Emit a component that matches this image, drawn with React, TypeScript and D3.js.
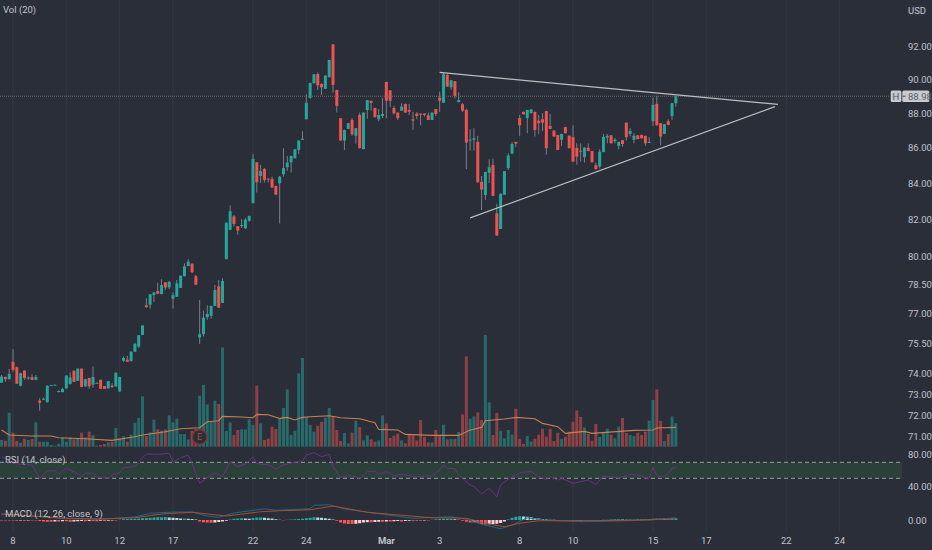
import { useRef, useEffect } from 'react';
import * as d3 from 'd3';

const width = 932;
const height = 550;

// hourly bars, index 0 is the bar on the "8" label, the first bar is -3
const firstBar = -3;

// [open, high, low, close]
const candles: [number, number, number, number][] = [
  [73.56, 73.94, 73.56, 73.86], [73.84, 73.86, 73.61, 73.73], [73.73, 74.23, 73.72, 73.99], [74.59, 75.22, 74.09, 74.19],
  [74.32, 74.35, 73.5, 73.51], [73.41, 74.05, 73.38, 74.02], [74.15, 74.17, 73.7, 73.79], [73.76, 73.86, 73.7, 73.81],
  [73.83, 73.97, 73.68, 73.7], [73.7, 73.94, 73.68, 73.84], [72.69, 72.81, 72.2, 72.59], [72.76, 72.84, 72.72, 72.78],
  [72.61, 73.43, 72.6, 73.41], [73.43, 73.46, 73.42, 73.44], [73.45, 73.47, 73.44, 73.46], [73.1, 73.18, 73.09, 73.16],
  [73.1, 73.31, 73.09, 73.25], [73.28, 73.92, 73.27, 73.91], [73.5, 74.07, 73.46, 73.81], [74.15, 74.16, 73.59, 73.6],
  [73.65, 74.26, 73.64, 74.25], [74.25, 74.26, 73.34, 73.35], [73.38, 73.74, 73.37, 73.73], [73.79, 73.8, 73.26, 73.38],
  [73.46, 74.36, 73.31, 73.84], [73.53, 73.57, 73.52, 73.55], [73.7, 73.71, 73.25, 73.26], [73.39, 73.4, 73.25, 73.26],
  [73.28, 73.65, 73.27, 73.64], [73.41, 73.54, 73.3, 73.35], [73.38, 74.06, 73.37, 74.05], [73.13, 73.85, 73.12, 73.84],
  [74.64, 74.86, 74.59, 74.78], [74.69, 74.88, 74.58, 74.59], [74.62, 75.1, 74.61, 75.09], [75.09, 75.54, 75.08, 75.48],
  [75.35, 75.93, 75.28, 75.92], [75.93, 76.42, 75.92, 76.41], [77.44, 77.8, 77.3, 77.35], [77.47, 78.02, 77.27, 78.01],
  [77.97, 78.12, 77.61, 78.11], [78.18, 78.61, 78.03, 78.04], [78.02, 78.79, 78.01, 78.49], [78.63, 78.64, 78.23, 78.37],
  [78.37, 78.7, 78.28, 78.66], [77.78, 78.11, 77.27, 77.96], [77.88, 78.76, 77.87, 78.58], [78.34, 78.99, 78.33, 78.98],
  [78.95, 79.63, 78.94, 79.47], [79.49, 79.85, 79.48, 79.72], [79.61, 79.62, 79.12, 79.16], [78.95, 79.02, 78.5, 78.51],
  [75.8, 77.72, 75.48, 75.97], [75.97, 77.17, 75.85, 76.81], [76.83, 77.44, 76.7, 77.0], [76.9, 77.42, 76.76, 77.41],
  [77.41, 78.49, 77.4, 78.23], [78.42, 78.76, 77.31, 77.32], [77.56, 78.85, 77.55, 78.7], [79.85, 81.83, 79.84, 81.81],
  [81.42, 82.75, 81.4, 82.44], [82.16, 82.23, 81.6, 81.74], [81.62, 81.63, 81.16, 81.38], [81.63, 82.0, 81.52, 81.68],
  [81.5, 82.07, 81.48, 81.97], [81.92, 82.19, 81.85, 82.18], [82.88, 85.63, 82.87, 85.35], [85.16, 85.17, 83.47, 84.04],
  [84.39, 85.02, 83.99, 84.66], [84.79, 84.83, 84.02, 84.17], [84.24, 84.26, 84.02, 84.21], [84.22, 84.35, 83.73, 83.74],
  [83.83, 83.85, 83.34, 83.35], [83.98, 84.39, 81.77, 84.35], [84.49, 85.96, 84.35, 84.83], [84.88, 85.52, 84.69, 85.14],
  [85.16, 85.53, 84.58, 85.52], [85.39, 85.91, 85.38, 85.9], [85.86, 86.41, 85.63, 86.4], [86.44, 86.94, 86.43, 86.5],
  [87.63, 89.1, 87.62, 88.59], [88.89, 89.78, 88.83, 89.77], [89.75, 90.3, 89.74, 90.29], [90.3, 90.4, 89.35, 89.63],
  [89.71, 89.75, 89.06, 89.51], [89.42, 90.22, 89.41, 90.21], [90.11, 91.16, 90.1, 91.15], [92.1, 92.12, 89.19, 89.65],
  [89.35, 89.37, 88.02, 88.41], [87.69, 87.7, 86.39, 86.4], [86.4, 87.02, 85.86, 87.01], [87.07, 87.41, 87.06, 87.4],
  [87.59, 87.7, 86.67, 86.76], [86.67, 87.12, 86.22, 87.11], [87.88, 88.02, 85.95, 85.96], [85.91, 88.03, 85.9, 88.02],
  [88.17, 88.76, 87.67, 88.75], [88.71, 88.72, 88.13, 88.59], [88.29, 88.3, 87.74, 87.75], [87.63, 88.23, 87.52, 87.88],
  [87.82, 88.87, 87.69, 87.94], [89.83, 89.84, 87.69, 88.72], [89.33, 89.34, 88.33, 88.71], [88.29, 88.41, 87.9, 87.98],
  [88.02, 88.03, 87.59, 87.69], [88.13, 88.57, 88.12, 88.37], [88.53, 88.54, 88.01, 88.02], [88.17, 88.53, 87.88, 88.07],
  [87.63, 88.07, 87.01, 87.55], [87.96, 88.04, 87.63, 87.82], [87.96, 87.97, 87.28, 87.9], [87.96, 87.97, 87.78, 87.88],
  [87.86, 88.02, 87.58, 87.59], [87.59, 88.03, 87.58, 88.02], [88.23, 88.24, 87.82, 87.94], [88.89, 89.25, 88.06, 88.71],
  [88.59, 90.4, 88.58, 90.29], [90.25, 90.3, 89.54, 89.55], [89.51, 89.94, 89.35, 89.93], [89.87, 89.88, 88.85, 89.0],
  [88.63, 89.21, 88.62, 88.75], [88.51, 88.57, 88.06, 88.13], [88.17, 88.25, 84.77, 86.28], [86.42, 87.05, 85.82, 86.45],
  [86.44, 87.11, 85.82, 86.53], [86.32, 86.67, 84.0, 84.04], [84.06, 84.39, 82.5, 83.63], [83.33, 84.62, 83.06, 84.61],
  [84.56, 85.33, 84.0, 84.88], [85.0, 85.37, 83.27, 83.28], [82.32, 82.84, 81.1, 81.11], [81.47, 83.41, 81.46, 83.4],
  [83.35, 84.67, 83.34, 84.66], [84.83, 85.67, 84.73, 85.54], [85.65, 86.32, 85.64, 86.2], [86.32, 86.33, 86.02, 86.22],
  [87.7, 87.88, 86.67, 87.28], [88.06, 88.07, 87.91, 87.92], [87.7, 88.18, 86.82, 88.17], [87.98, 88.22, 87.97, 88.21],
  [88.06, 88.07, 86.63, 87.01], [87.55, 87.88, 86.78, 87.4], [87.63, 87.98, 86.95, 87.43], [88.11, 88.12, 85.59, 85.96],
  [87.24, 87.94, 87.06, 87.07], [86.97, 86.98, 86.62, 86.63], [86.72, 86.73, 85.85, 85.86], [86.44, 86.79, 86.09, 86.78],
  [87.18, 87.19, 86.81, 86.82], [86.68, 86.69, 85.95, 85.96], [86.59, 87.28, 85.19, 85.2], [85.98, 86.24, 85.02, 85.48],
  [85.82, 86.24, 85.2, 85.78], [85.45, 86.01, 85.14, 86.0], [85.98, 86.24, 85.79, 85.8], [85.8, 85.81, 85.15, 85.16],
  [85.0, 85.14, 84.76, 84.77], [84.92, 85.9, 84.81, 85.76], [85.74, 86.78, 85.73, 86.61], [86.57, 86.78, 86.24, 86.67],
  [86.7, 86.71, 86.23, 86.24], [86.36, 86.55, 86.24, 86.45], [86.09, 86.33, 85.9, 86.32], [86.42, 86.43, 86.05, 86.2],
  [87.43, 87.44, 86.4, 86.59], [86.78, 87.11, 86.63, 86.95], [86.44, 86.82, 86.24, 86.67], [86.7, 86.71, 86.47, 86.48],
  [86.72, 86.73, 86.52, 86.53], [86.67, 86.68, 86.09, 86.24], [86.26, 86.59, 86.25, 86.32], [87.52, 88.89, 87.24, 88.47],
  [88.53, 89.0, 87.27, 87.28], [87.4, 87.41, 86.13, 86.63], [86.78, 87.35, 86.77, 87.34], [87.52, 87.63, 87.29, 87.3],
  [87.82, 88.58, 87.59, 88.57], [88.57, 89.0, 88.37, 88.98],
];

// thousands of shares
const volumes = [
  67, 60, 340, 140, 57, 40, 80, 67, 77, 243,
  50, 50, 50, 17, 10, 27, 93, 50, 93, 73,
  83, 140, 93, 150, 117, 10, 17, 27, 43, 50,
  187, 83, 103, 50, 120, 240, 287, 503, 107, 143,
  270, 173, 160, 173, 313, 243, 280, 127, 127, 73,
  157, 177, 510, 617, 423, 250, 460, 427, 993, 157,
  243, 117, 167, 173, 173, 273, 217, 610, 233, 67,
  80, 200, 177, 283, 387, 573, 117, 160, 733, 887,
  290, 217, 150, 210, 247, 290, 387, 307, 167, 57,
  137, 33, 140, 260, 197, 63, 113, 73, 50, 63,
  313, 233, 87, 110, 130, 63, 33, 123, 113, 63,
  267, 97, 43, 43, 167, 107, 220, 73, 77, 77,
  147, 323, 903, 280, 303, 343, 267, 1117, 443, 117,
  337, 160, 83, 167, 123, 380, 80, 27, 107, 53,
  80, 120, 180, 100, 180, 57, 140, 77, 100, 150,
  250, 363, 297, 193, 127, 60, 227, 97, 140, 180,
  120, 83, 200, 287, 137, 117, 107, 140, 117, 150,
  260, 467, 573, 257, 57, 127, 303, 237,
];

// [bar, value] read at the turning points of each line
const volumeAverage: [number, number][] = [
  [-3, 167], [-1, 117], [5, 107], [10, 107], [12, 90], [19, 80], [26, 63], [32, 100], [34, 117], [40, 150],
  [44, 180], [49, 190], [51, 250], [54, 260], [55, 303], [60, 297], [63, 290], [64, 323], [67, 320], [70, 283],
  [72, 293], [74, 267], [76, 293], [78, 300], [83, 310], [86, 290], [91, 280], [95, 240], [96, 173], [101, 167],
  [103, 123], [110, 113], [117, 113], [120, 167], [123, 193], [124, 260], [129, 277], [132, 293], [137, 280], [139, 233],
  [143, 200], [145, 133], [150, 153], [152, 133], [163, 163], [168, 167], [169, 187], [174, 193],
];

const rsi: [number, number][] = [
  [-3, 77], [-2, 75], [0, 68.7], [2, 67.5], [5, 66.6], [7, 50], [9, 59], [11, 59.6], [12, 55], [14, 62.5],
  [16, 58.3], [18, 52.9], [19, 56.2], [21, 56.2], [22, 51.2], [25, 50], [26, 54], [28, 57], [29, 63.3], [32, 64.6],
  [33, 70.8], [35, 80.4], [38, 80], [41, 81.2], [42, 70], [44, 75.8], [46, 79], [47, 68.7], [49, 43.7], [51, 50.8],
  [53, 57], [55, 52], [57, 70.8], [59, 64.6], [61, 67.9], [63, 76.2], [64, 68.7], [67, 66.6], [69, 61.6], [71, 66.6],
  [74, 70], [76, 71.6], [77, 79], [79, 82], [81, 77], [83, 80], [84, 64.6], [86, 50.8], [88, 54], [90, 52],
  [91, 49], [93, 58.3], [95, 59], [96, 55], [98, 58.3], [100, 53.3], [102, 55], [104, 53.3], [105, 52], [108, 52.9],
  [110, 52.9], [112, 60.4], [113, 66.6], [114, 62.5], [116, 62], [117, 54], [118, 50], [120, 41.6], [121, 39.6], [123, 30.4],
  [125, 37.5], [127, 27], [128, 41.6], [130, 49], [133, 57], [136, 58.3], [138, 52], [140, 48.7], [141, 52], [143, 47.9],
  [144, 50], [147, 43.7], [151, 47.9], [153, 42], [155, 52.9], [157, 52], [159, 50], [162, 55], [165, 53.3], [166, 49],
  [167, 50], [168, 63.7], [169, 53.3], [170, 51.2], [172, 55.4], [173, 62.5], [174, 63.7],
];

const macdLine: [number, number][] = [
  [-3, 0.24], [5, 0.16], [14, 0.05], [23, 0.03], [32, 0.12], [36, 0.27], [42, 0.32], [47, 0.32], [51, 0.16], [54, 0.11],
  [58, 0.28], [66, 0.45], [69, 0.39], [78, 0.45], [79, 0.59], [83, 0.61], [87, 0.44], [95, 0.27], [105, 0.07], [115, 0.13],
  [119, 0.03], [123, -0.17], [128, -0.35], [131, -0.2], [135, 0.09], [140, -0.01], [150, -0.07], [158, -0.04], [167, 0], [174, 0.09],
];

const signalLine: [number, number][] = [
  [-3, 0.24], [5, 0.16], [14, 0.07], [23, 0.04], [32, 0.09], [39, 0.24], [47, 0.31], [56, 0.16], [65, 0.33], [70, 0.37],
  [78, 0.41], [84, 0.56], [93, 0.31], [102, 0.19], [110, 0.09], [119, 0.07], [124, -0.13], [129, -0.27], [133, -0.13], [138, -0.03],
  [147, -0.03], [163, -0.01], [174, 0.04],
];

const macdHist = [
  -0.02, -0.02, -0.02, -0.02, -0.03, -0.02, -0.03, -0.02, -0.02, -0.02,
  -0.04, -0.06, -0.07, -0.07, -0.06, -0.06, -0.05, -0.05, -0.07, -0.06,
  -0.05, -0.04, -0.05, -0.04, -0.04, -0.05, -0.03, -0.04, -0.03, -0.02,
  -0.02, 0.01, 0.03, 0.04, 0.05, 0.05, 0.06, 0.07, 0.08, 0.09,
  0.1, 0.11, 0.11, 0.12, 0.1, 0.09, 0.08, 0.06, 0.06, 0.05,
  0.04, 0.02, -0.06, -0.09, -0.1, -0.11, -0.1, -0.08, -0.06, -0.03,
  0.02, 0.05, 0.06, 0.07, 0.06, 0.05, 0.08, 0.1, 0.1, 0.09,
  0.07, 0.06, 0.03, 0.01, -0.01, 0.01, 0.02, 0.03, 0.04, 0.05,
  0.07, 0.09, 0.11, 0.1, 0.09, 0.07, 0.05, 0.02, -0.03, -0.1,
  -0.14, -0.16, -0.16, -0.15, -0.13, -0.1, -0.09, -0.09, -0.08, -0.07,
  -0.07, -0.06, -0.06, -0.05, -0.04, -0.06, -0.04, -0.03, -0.03, -0.03,
  -0.03, -0.02, -0.02, 0.01, 0.03, 0.04, 0.05, 0.05, 0.05, 0.03,
  0.01, -0.03, -0.07, -0.1, -0.09, -0.12, -0.16, -0.18, -0.17, -0.16,
  -0.15, -0.12, -0.06, 0.02, 0.09, 0.13, 0.15, 0.14, 0.13, 0.11,
  0.08, 0.06, 0.04, 0.02, 0.02, 0.01, -0.01, -0.02, -0.02, -0.02,
  -0.03, -0.03, -0.02, -0.02, -0.01, -0.02, -0.01, -0.01, 0.01, 0.01,
  0.02, 0.03, 0.03, 0.02, 0.02, 0.02, 0.02, 0.03, 0.03, 0.03,
  0.02, 0.05, 0.06, 0.06, 0.05, 0.06, 0.07, 0.07,
];

const timeTicks: [number, string][] = [
  [0, '8'], [14, '10'], [28, '12'], [42, '17'], [63, '22'], [77, '24'], [98, 'Mar'],
  [112, '3'], [133, '8'], [147, '10'], [168, '15'], [182, '17'], [203, '22'], [217, '24'],
];

const priceTicks = [92, 90, 88, 86, 84, 82, 80, 78.5, 77, 75.5, 74, 73, 72, 71];
const rsiTicks = [80, 40];
const rsiBand = [70, 50];
const lastPrice = 88.98;
const earningsBar = 49;

// [bar, price] of the two hand drawn trend lines
const upperTrend: [number, number][] = [[112, 90.4], [200.8, 88.5]];
const lowerTrend: [number, number][] = [[120, 82.07], [200, 88.37]];

const BG = '#2a2e39';
const UP = '#26a69a';
const DOWN = '#ef5350';
const WICK = '#7b7e88';
const TEXT = '#c0c3ca';
const FONT = '"Liberation Sans Narrow", Roboto, sans-serif';

export default function App() {
  const svgRef = useRef<SVGSVGElement>(null);

  useEffect(() => {
    if (!svgRef.current) return;
    const svg = d3.select(svgRef.current);
    svg.selectAll('*').remove();

    const axisLeft = 902;

    const x = d3.scaleLinear().domain([0, 168]).range([13, 653]);
    const yPrice = d3.scaleLog().domain([71, 92]).range([436, 46]);
    const yVol = d3.scaleLinear().domain([0, 1120]).range([446.7, 334.7]);
    const yRsi = d3.scaleLinear().domain([80, 40]).range([454.3, 486.3]);
    const yMacd = d3.scaleLinear().domain([0, 1]).range([520, 495]);

    const barOf = (i: number) => i + firstBar;
    const isUp = (c: [number, number, number, number]) => c[3] >= c[0];

    // Grid
    svg.append('g')
      .selectAll('line')
      .data(timeTicks)
      .join('line')
      .attr('x1', (d) => x(d[0])).attr('x2', (d) => x(d[0]))
      .attr('y1', 0).attr('y2', 531)
      .attr('stroke', '#343844')
      .attr('stroke-width', 1);

    // Volume
    svg.append('g')
      .selectAll('rect')
      .data(volumes)
      .join('rect')
      .attr('x', (_, i) => x(barOf(i)) - 1.5)
      .attr('y', (d) => yVol(d))
      .attr('width', 3)
      .attr('height', (d) => yVol(0) - yVol(d))
      .attr('fill', (_, i) => (isUp(candles[i]) ? UP : DOWN))
      .attr('opacity', 0.5);

    const pointLine = (y: d3.ScaleLinear<number, number>) =>
      d3.line<[number, number]>().x((d) => x(d[0])).y((d) => y(d[1]));

    svg.append('path')
      .attr('d', pointLine(yVol)(volumeAverage))
      .attr('fill', 'none')
      .attr('stroke', '#c97f50')
      .attr('stroke-width', 1.1);

    // Candles
    const bars = svg.append('g');
    bars.selectAll('line')
      .data(candles)
      .join('line')
      .attr('x1', (_, i) => x(barOf(i))).attr('x2', (_, i) => x(barOf(i)))
      .attr('y1', (d) => yPrice(d[1])).attr('y2', (d) => yPrice(d[2]))
      .attr('stroke', WICK)
      .attr('stroke-width', 1);
    bars.selectAll('rect')
      .data(candles)
      .join('rect')
      .attr('x', (_, i) => x(barOf(i)) - 1.5)
      .attr('y', (d) => yPrice(Math.max(d[0], d[3])))
      .attr('width', 3)
      .attr('height', (d) => Math.max(1, Math.abs(yPrice(d[0]) - yPrice(d[3]))))
      .attr('fill', (d) => (isUp(d) ? UP : DOWN));

    // Last price line
    svg.append('line')
      .attr('x1', 0).attr('x2', axisLeft - 12)
      .attr('y1', yPrice(lastPrice)).attr('y2', yPrice(lastPrice))
      .attr('stroke', '#6a6d78')
      .attr('stroke-dasharray', '1 1');

    // Trend lines
    [upperTrend, lowerTrend].forEach((t) => {
      svg.append('line')
        .attr('x1', x(t[0][0])).attr('y1', yPrice(t[0][1]))
        .attr('x2', x(t[1][0])).attr('y2', yPrice(t[1][1]))
        .attr('stroke', '#bcbdc1')
        .attr('stroke-width', 1.2);
    });

    // Earnings badge
    const ex = x(earningsBar);
    const ey = 437;
    svg.append('circle')
      .attr('cx', ex).attr('cy', ey).attr('r', 7.3)
      .attr('fill', '#2a2e39')
      .attr('stroke', '#7d3436')
      .attr('stroke-width', 1.4);
    svg.append('text')
      .attr('x', ex).attr('y', ey + 3)
      .attr('text-anchor', 'middle')
      .attr('fill', '#b8403e')
      .style('font-size', '9px').style('font-family', FONT)
      .text('E');

    // RSI pane
    svg.append('rect')
      .attr('x', 0).attr('width', axisLeft)
      .attr('y', yRsi(rsiBand[0])).attr('height', yRsi(rsiBand[1]) - yRsi(rsiBand[0]))
      .attr('fill', '#2a4038');
    rsiBand.forEach((v) => {
      svg.append('line')
        .attr('x1', 0).attr('x2', axisLeft)
        .attr('y1', yRsi(v)).attr('y2', yRsi(v))
        .attr('stroke', '#9a9da5')
        .attr('stroke-dasharray', '4 3');
    });
    svg.append('path')
      .attr('d', pointLine(yRsi)(rsi))
      .attr('fill', 'none')
      .attr('stroke', '#6f2f84')
      .attr('stroke-width', 1);

    // MACD pane
    svg.append('g')
      .selectAll('rect')
      .data(macdHist)
      .join('rect')
      .attr('x', (_, i) => x(barOf(i)) - 1.5)
      .attr('y', (d) => Math.min(yMacd(d), yMacd(0)))
      .attr('width', 3)
      .attr('height', (d) => Math.abs(yMacd(d) - yMacd(0)))
      .attr('fill', (d, i) => {
        const prev = i > 0 ? macdHist[i - 1] : d;
        if (d >= 0) return d >= prev ? UP : '#b2dfdb';
        return d <= prev ? '#ff5252' : '#ffcdd2';
      });
    svg.append('path')
      .attr('d', pointLine(yMacd)(macdLine))
      .attr('fill', 'none')
      .attr('stroke', '#0f6d8e')
      .attr('stroke-width', 1);
    svg.append('path')
      .attr('d', pointLine(yMacd)(signalLine))
      .attr('fill', 'none')
      .attr('stroke', '#b04a2b')
      .attr('stroke-width', 1);

    // Axis labels
    const label = (tx: number, ty: number, s: string, anchor = 'start') =>
      svg.append('text')
        .attr('x', tx).attr('y', ty)
        .attr('text-anchor', anchor)
        .attr('fill', TEXT)
        .style('font-size', '9.5px').style('font-family', FONT)
        .text(s);

    priceTicks.forEach((p) => label(908, yPrice(p) + 3.6, p.toFixed(2)));
    rsiTicks.forEach((v) => label(908, yRsi(v) + 3.6, v.toFixed(2)));
    label(908, yMacd(0) + 3.8, (0).toFixed(2));
    timeTicks.forEach(([b, s]) => label(x(b), 543.5, s, 'middle').style('font-weight', s === 'Mar' ? 700 : 400));

    label(3, 12.5, 'Vol (20)');
    label(5, 462.6, 'RSI (14, close)');
    label(5, 516.5, 'MACD (12, 26, close, 9)');

    // Currency box
    svg.append('rect')
      .attr('x', 907.5).attr('y', 5).attr('width', 19).attr('height', 11)
      .attr('rx', 2)
      .attr('fill', '#2e323d');
    label(917, 13.5, 'USD', 'middle');

    // Last price badge
    const py = yPrice(lastPrice);
    svg.append('rect')
      .attr('x', 890.7).attr('y', py - 5.8).attr('width', 10.7).attr('height', 11.6)
      .attr('rx', 1.5)
      .attr('fill', '#c8cacf');
    svg.append('rect')
      .attr('x', 902.3).attr('y', py - 5.8).attr('width', 27).attr('height', 11.6)
      .attr('rx', 1.5)
      .attr('fill', '#c8cacf');
    label(896, py + 3.4, 'H', 'middle').attr('fill', '#4b4f5a');
    svg.append('line')
      .attr('x1', 902.5).attr('x2', 905.5)
      .attr('y1', py).attr('y2', py)
      .attr('stroke', '#4b4f5a');
    label(908, py + 3.4, lastPrice.toFixed(2)).attr('fill', '#5a5e69');
  }, []);

  return (
    <svg
      ref={svgRef}
      width={width}
      height={height}
      viewBox={`0 0 ${width} ${height}`}
      style={{ position: 'fixed', left: 0, top: 0, background: BG, display: 'block' }}
    />
  );
}
